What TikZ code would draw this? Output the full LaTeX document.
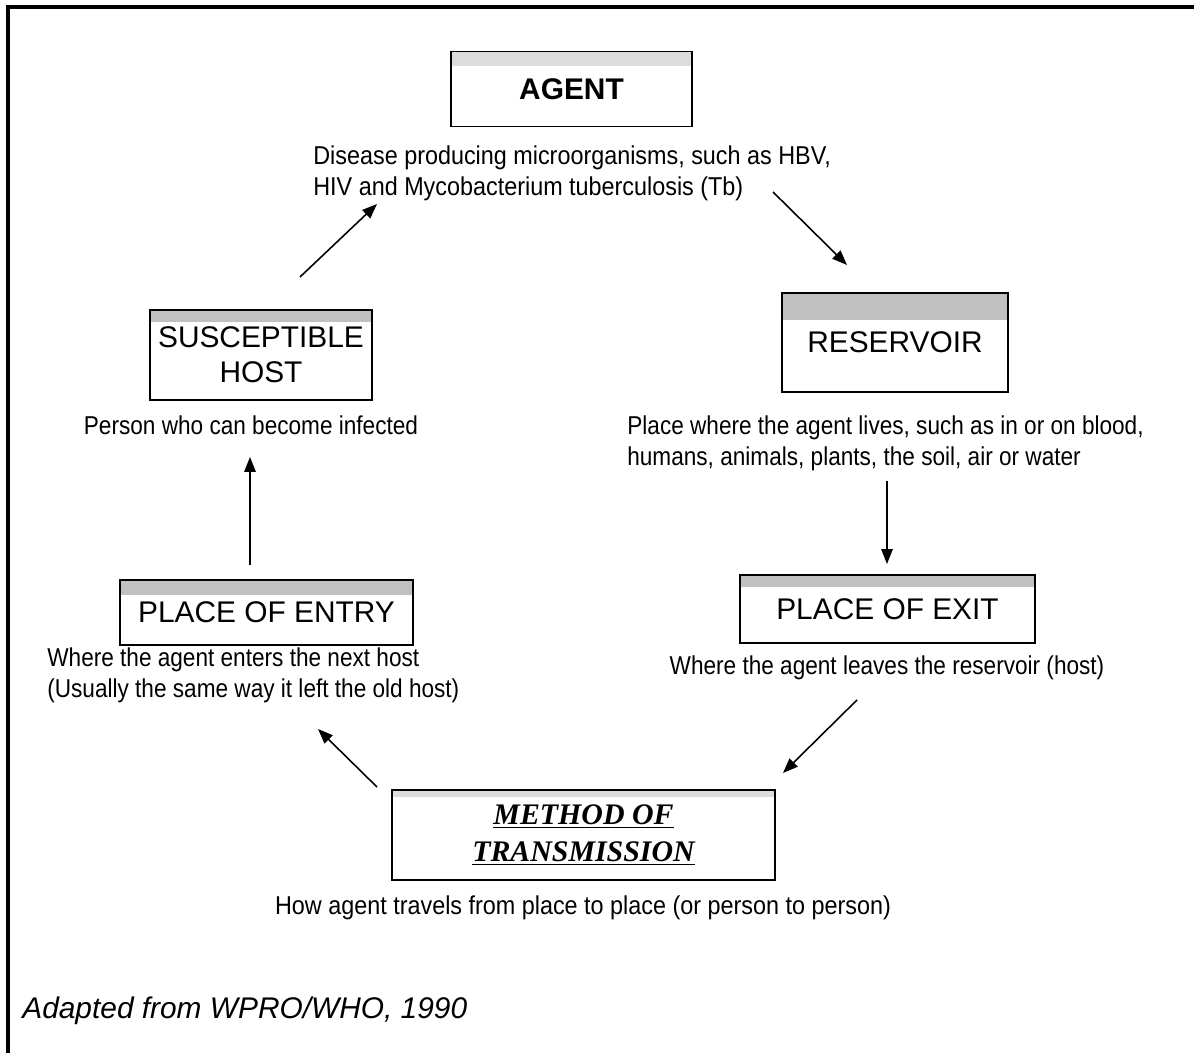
\documentclass[tikz,border=0pt]{standalone}
\usepackage{fontspec}
\setmainfont{Liberation Sans}
\newfontfamily\narrowfont[FakeStretch=0.875]{Liberation Sans}
\newfontfamily\halfnarrowfont[FakeStretch=0.905]{Liberation Sans}
\newfontfamily\timesfont{Liberation Serif}
\usepackage{xcolor}
\definecolor{Ink}{HTML}{000000}
\definecolor{BarGray}{HTML}{C0C0C0}
\definecolor{BarLight}{HTML}{DCDCDC}
\usepackage{tikz}
\usetikzlibrary{arrows.meta}

\begin{document}
\begin{tikzpicture}[x=0.02cm,y=-0.02cm,
  stage/.style={draw=Ink,line width=1.1pt,fill=white,inner sep=0pt,align=center,text=Ink,font=\fontsize{17}{20}\selectfont},
  bar/.style 2 args={path picture={\fill[#1] (path picture bounding box.north west) rectangle ([yshift=-#2]path picture bounding box.north east);}},
  note/.style={inner sep=0pt,text=Ink,font=\narrowfont\fontsize{14.7}{17.6}\selectfont},
  widenote/.style={note,font=\halfnarrowfont\fontsize{14.7}{17.6}\selectfont},
  arrow/.style={-{Triangle[length=8.5pt,width=6.5pt]},line width=0.9pt,color=Ink}
]
\useasboundingbox (0,0) rectangle (1194,1053);
\draw[line width=2.3pt] (8,1053) -- (8,7) -- (1194,7);

\node[stage,bar={BarLight}{0.3cm},minimum width=4.82cm,minimum height=1.5cm] (agent) at (571.5,89) {\bfseries AGENT};
\node[widenote,anchor=west,align=left] (agentnote) at (313,173) {Disease producing microorganisms, such as HBV,\\HIV and Mycobacterium tuberculosis (Tb)};

\node[stage,bar={BarGray}{0.54cm},minimum width=4.52cm,minimum height=1.98cm] (reservoir) at (895,342.5) {RESERVOIR};
\node[note,anchor=west,align=left] (reservoirnote) at (627,443) {Place where the agent lives, such as in or on blood,\\humans, animals, plants, the soil, air or water};

\node[stage,bar={BarGray}{0.24cm},minimum width=5.9cm,minimum height=1.36cm] (exit) at (887.5,609) {PLACE OF EXIT};
\node[note] (exitnote) at (887,668) {Where the agent leaves the reservoir (host)};

\node[stage,bar={BarLight}{0.14cm},minimum width=7.66cm,minimum height=1.8cm] (method) at (583.5,835)
  {\timesfont\bfseries\itshape\underline{METHOD OF}\\[0.05cm]\timesfont\bfseries\itshape\underline{TRANSMISSION}};
\node[widenote] (methodnote) at (583,908) {How agent travels from place to place (or person to person)};

\node[stage,bar={BarGray}{0.3cm},minimum width=5.86cm,minimum height=1.3cm] (entry) at (266.5,612.5) {PLACE OF ENTRY};
\node[note,anchor=west,align=left] (entrynote) at (47,675) {Where the agent enters the next host\\(Usually the same way it left the old host)};

\node[stage,bar={BarGray}{0.24cm},minimum width=4.44cm,minimum height=1.8cm] (host) at (261,355) {SUSCEPTIBLE\\HOST};
\node[note] (hostnote) at (251,425) {Person who can become infected};

\node[anchor=west,inner sep=0pt,font=\fontsize{17}{20}\selectfont\itshape] (credit) at (22,1011) {Adapted from WPRO/WHO, 1990};

\coordinate (hostout) at (300,277);
\coordinate (agentin) at (377,204);
\coordinate (agentout) at (773,192);
\coordinate (reservoirin) at (847,265);
\coordinate (reservoirout) at (887,481);
\coordinate (exitin) at (887,564);
\coordinate (exitout) at (857,700);
\coordinate (methodin) at (783,773);
\coordinate (methodout) at (377,787);
\coordinate (entryin) at (318,729);
\coordinate (entryout) at (250,565);
\coordinate (hostin) at (250,457);
\draw[arrow] (hostout)--(agentin);
\draw[arrow] (agentout)--(reservoirin);
\draw[arrow] (reservoirout)--(exitin);
\draw[arrow] (exitout)--(methodin);
\draw[arrow] (methodout)--(entryin);
\draw[arrow] (entryout)--(hostin);
\end{tikzpicture}
\end{document}
